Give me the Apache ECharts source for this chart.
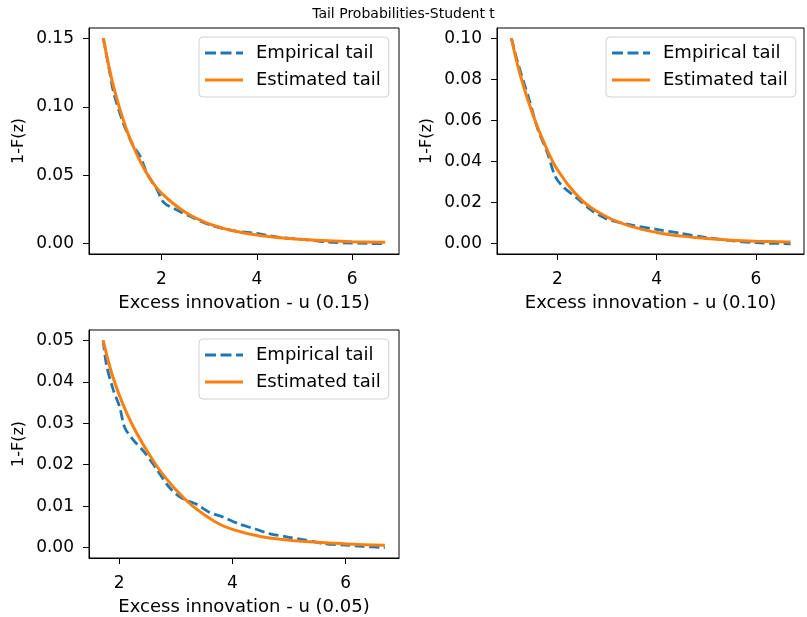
<!DOCTYPE html>
<html><head><meta charset="utf-8">
<script src="https://cdn.jsdelivr.net/npm/echarts@6/dist/echarts.min.js"></script>
<style>html,body{margin:0;padding:0;background:#fff}#c{width:807px;height:617px}</style>
</head><body><div id="c"></div>
<script>
// ---- data ----
const titleText = 'Tail Probabilities-Student t';
const seriesNames = ['Empirical tail', 'Estimated tail'];
const xNames = ['Excess innovation - u (0.15)', 'Excess innovation - u (0.10)', 'Excess innovation - u (0.05)'];
const yName = '1-F(z)';

const emp1X = [0.78, 0.9, 1.0, 1.2, 1.4, 1.55, 1.7, 1.9, 2.05, 2.3, 2.6, 3.0, 3.5, 4.0, 4.5, 5.0, 5.5, 6.0, 6.69];
const emp1Y = [0.150, 0.128, 0.110, 0.088, 0.072, 0.064, 0.051, 0.040, 0.030, 0.025, 0.020, 0.014, 0.0095, 0.0075, 0.0045, 0.003, 0.0012, 0.0005, 0.0];
const est1X = [0.78, 1.0, 1.25, 1.5, 1.75, 2.0, 2.5, 3.0, 3.5, 4.0, 4.5, 5.0, 5.5, 6.0, 6.69];
const est1Y = [0.150, 0.114, 0.085, 0.064, 0.048, 0.037, 0.023, 0.0145, 0.0095, 0.0063, 0.0043, 0.0030, 0.0021, 0.0015, 0.0010];

const emp2X = [1.07, 1.2, 1.43, 1.6, 1.8, 1.95, 2.1, 2.4, 2.7, 3.0, 3.5, 4.0, 4.5, 5.0, 5.5, 6.0, 6.7];
const emp2Y = [0.100, 0.088, 0.070, 0.056, 0.044, 0.033, 0.028, 0.022, 0.016, 0.012, 0.009, 0.007, 0.005, 0.003, 0.0015, 0.0005, 0.0];
const est2X = [1.07, 1.25, 1.5, 1.75, 2.0, 2.5, 3.0, 3.5, 4.0, 4.5, 5.0, 5.5, 6.0, 6.7];
const est2Y = [0.100, 0.082, 0.063, 0.048, 0.036, 0.021, 0.013, 0.0083, 0.0055, 0.0037, 0.0025, 0.0017, 0.0012, 0.0008];

const emp3X = [1.72, 1.78, 1.9, 2.01, 2.1, 2.25, 2.45, 2.66, 2.89, 3.1, 3.36, 3.6, 3.83, 4.1, 4.4, 4.65, 5.0, 5.3, 5.6, 6.0, 6.3, 6.69];
const emp3Y = [0.050, 0.044, 0.038, 0.034, 0.029, 0.026, 0.023, 0.019, 0.0145, 0.012, 0.0105, 0.0085, 0.0074, 0.0058, 0.0045, 0.0034, 0.0025, 0.0018, 0.001, 0.0006, 0.0003, 0.0];
const est3X = [1.72, 1.92, 2.22, 2.65, 3.0, 3.3, 3.7, 4.0, 4.5, 5.0, 5.5, 6.0, 6.69];
const est3Y = [0.050, 0.040, 0.030, 0.020, 0.0140, 0.010, 0.0062, 0.0044, 0.0027, 0.0018, 0.0013, 0.0009, 0.0006];

// tick labels
const xTicks = [2, 4, 6];
const yTicks1 = [0.00, 0.05, 0.10, 0.15];
const yTicks2 = [0.00, 0.02, 0.04, 0.06, 0.08, 0.10];
const yTicks3 = [0.00, 0.01, 0.02, 0.03, 0.04, 0.05];

// axis extents (matplotlib 5% margins)
const xRanges = [[0.48, 6.98], [0.78, 6.97], [1.47, 6.94]];
const yRanges = [[-0.0075, 0.1575], [-0.005, 0.105], [-0.0025, 0.0525]];

// ---- build chart ----
const FONT = 'DejaVu Sans';
const BLUE = '#1f77b4', ORANGE = '#ff7f0e';
const pairs = (xs, ys) => xs.map((x, i) => [x, ys[i]]);
const yTickSets = [yTicks1, yTicks2, yTicks3];

const grids = [
  {left: 89, top: 28, width: 310, height: 226},
  {left: 497, top: 28, width: 307, height: 226},
  {left: 89, top: 330, width: 310, height: 228}
].map(g => Object.assign({show: true, borderColor: '#000', borderWidth: 1, backgroundColor: '#fff'}, g));

const xAxes = xRanges.map((r, i) => ({
  type: 'value', gridIndex: i, min: r[0], max: r[1],
  name: xNames[i], nameLocation: 'middle', nameGap: 40,
  nameTextStyle: {fontFamily: FONT, fontSize: 18, color: '#000'},
  axisLine: {show: true, onZero: false, lineStyle: {color: '#000', width: 1}},
  axisTick: {show: true, inside: false, length: 6, lineStyle: {color: '#000'}, customValues: xTicks},
  axisLabel: {margin: 17, fontFamily: FONT, fontSize: 17, color: '#000', customValues: xTicks,
    formatter: v => String(Math.round(v))},
  splitLine: {show: false}
}));

const yAxes = yRanges.map((r, i) => ({
  type: 'value', gridIndex: i, min: r[0], max: r[1],
  name: yName, nameLocation: 'middle', nameGap: 62, nameRotate: 90,
  nameTextStyle: {fontFamily: FONT, fontSize: 16, color: '#000'},
  axisLine: {show: true, onZero: false, lineStyle: {color: '#000', width: 1}},
  axisTick: {show: true, inside: false, length: 6, lineStyle: {color: '#000'}, customValues: yTickSets[i]},
  axisLabel: {margin: 15, fontFamily: FONT, fontSize: 17, color: '#000', customValues: yTickSets[i],
    formatter: v => (Math.abs(v) < 1e-9 ? 0 : v).toFixed(2)},
  splitLine: {show: false}
}));

const empData = [pairs(emp1X, emp1Y), pairs(emp2X, emp2Y), pairs(emp3X, emp3Y)];
const estData = [pairs(est1X, est1Y), pairs(est2X, est2Y), pairs(est3X, est3Y)];
const series = [];
for (let i = 0; i < 3; i++) {
  series.push({name: seriesNames[0], type: 'line', xAxisIndex: i, yAxisIndex: i, data: empData[i],
    showSymbol: false, symbol: 'none', smooth: 0.3, color: BLUE,
    lineStyle: {color: BLUE, width: 2.8, type: [10, 4.5]}, z: 2, silent: true});
  series.push({name: seriesNames[1], type: 'line', xAxisIndex: i, yAxisIndex: i, data: estData[i],
    showSymbol: false, symbol: 'none', smooth: 0.4, color: ORANGE,
    lineStyle: {color: ORANGE, width: 3}, z: 3, silent: true});
}

const dashIcon = 'path://M0,0h11v3h-11zM15.5,0h11v3h-11zM31,0h7v3h-7z';
const solidIcon = 'path://M0,0h38v3h-38z';
const legendPos = [{left: 199, top: 37}, {left: 606, top: 37}, {left: 199, top: 339}];
const legends = legendPos.map(p => Object.assign({
  data: [{name: seriesNames[0], icon: dashIcon}, {name: seriesNames[1], icon: solidIcon}],
  orient: 'vertical', itemWidth: 38, itemHeight: 3, itemGap: 7,
  padding: [6, 8, 7, 6], backgroundColor: 'rgba(255,255,255,0.85)', borderColor: '#d0d0d0',
  borderWidth: 1, borderRadius: 4, selectedMode: false,
  textStyle: {fontFamily: FONT, fontSize: 18, color: '#000', lineHeight: 20, padding: [0, 0, 0, 8]}
}, p));

const chart = echarts.init(document.getElementById('c'), null, {renderer: 'canvas'});
chart.setOption({
  animation: false,
  backgroundColor: '#fff',
  title: {text: titleText, left: 'center', top: 2,
    textStyle: {fontFamily: FONT, fontSize: 14, fontWeight: 'normal', color: '#000'}},
  legend: legends,
  grid: grids,
  xAxis: xAxes,
  yAxis: yAxes,
  series: series
});
</script>
</body></html>
